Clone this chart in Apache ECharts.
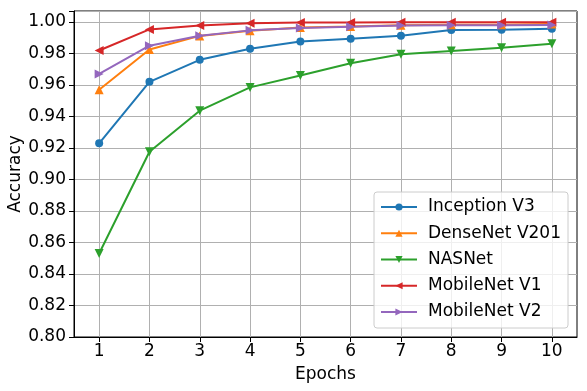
<!DOCTYPE html>
<html><head><meta charset="utf-8">
<script src="https://cdn.jsdelivr.net/npm/echarts@6/dist/echarts.min.js"></script>
<style>html,body{margin:0;padding:0;background:#fff}#c{width:587px;height:391px}</style>
</head><body><div id="c"></div>
<script>
const epochs = [1,2,3,4,5,6,7,8,9,10];
const inceptionV3 = [0.923,0.962,0.976,0.983,0.9877,0.9894,0.9913,0.9950,0.9951,0.9957];
const denseNetV201 = [0.957,0.9826,0.9912,0.9945,0.9965,0.9972,0.9980,0.9982,0.9983,0.9988];
const nasNet = [0.853,0.9176,0.9437,0.9585,0.966,0.9738,0.9795,0.9816,0.9837,0.9862];
const mobileNetV1 = [0.9819,0.9953,0.9978,0.9993,0.9997,0.9997,0.9998,0.9998,0.9998,0.9999];
const mobileNetV2 = [0.967,0.9850,0.9913,0.9947,0.9962,0.9970,0.9978,0.9980,0.9980,0.9981];
const seriesNames = ['Inception V3','DenseNet V201','NASNet','MobileNet V1','MobileNet V2'];
const seriesData = [inceptionV3,denseNetV201,nasNet,mobileNetV1,mobileNetV2];
const colors = ['#1f77b4','#ff7f0e','#2ca02c','#d62728','#9467bd'];
const symbols = ['circle','triangle','triangle','triangle','triangle'];
const rotates = [0,0,180,90,-90];
const sizes = [8,9,9,9,9];
const FONT = 'DejaVu Sans';

const chart = echarts.init(document.getElementById('c'), null, {renderer:'canvas'});
const series = seriesNames.map((n,i)=>({
  name:n, type:'line',
  data: epochs.map((e,j)=>[e, seriesData[i][j]]),
  symbol: symbols[i], symbolRotate: rotates[i], symbolSize: sizes[i],
  showAllSymbol:true,
  lineStyle:{width:2,color:colors[i]},
  itemStyle:{color:colors[i]},
  emphasis:{disabled:true},
  animation:false, z: 3
}));
chart.setOption({
  animation:false,
  grid:{left:74,right:10,top:11,bottom:54,show:true,borderColor:'#000',borderWidth:1,containLabel:false,outerBoundsMode:'none'},
  legend:{
    orient:'vertical', left:374, top:192,
    data: seriesNames,
    itemWidth:36, itemHeight:9, itemGap:6.25,
    textStyle:{fontFamily:FONT,fontSize:17,color:'#000',padding:[0,0,0,6],width:133,lineHeight:20},
    backgroundColor:'rgba(255,255,255,0.8)', borderColor:'#cccccc', borderWidth:1, borderRadius:3,
    padding:[5,7,6,6]
  },
  xAxis:{
    type:'value', min:0.5, max:10.5,
    name:'Epochs', nameLocation:'middle', nameGap:29, nameMoveOverlap:false,
    nameTextStyle:{fontFamily:FONT,fontSize:17,color:'#000'},
    axisLine:{show:true,lineStyle:{color:'#000',width:1}},
    axisTick:{show:true,length:5,lineStyle:{color:'#000'},inside:false,customValues:epochs},
    axisLabel:{fontFamily:FONT,fontSize:17,color:'#000',margin:6,customValues:epochs,
      formatter:v=> String(Math.round(v))},
    splitLine:{show:true,lineStyle:{color:'#b0b0b0',width:1}}
  },
  yAxis:{
    type:'value', min:0.8, max:1.007, interval:0.02,
    name:'Accuracy', nameLocation:'middle', nameGap:50, nameMoveOverlap:false,
    nameTextStyle:{fontFamily:FONT,fontSize:17,color:'#000'},
    axisLine:{show:true,lineStyle:{color:'#000',width:1}},
    axisTick:{show:true,length:5,lineStyle:{color:'#000'}},
    axisLabel:{fontFamily:FONT,fontSize:17,color:'#000',margin:8,
      formatter:v=> v>1.001 ? '' : v.toFixed(2)},
    splitLine:{show:true,lineStyle:{color:'#b0b0b0',width:1}}
  },
  series: series
});
</script></body></html>
